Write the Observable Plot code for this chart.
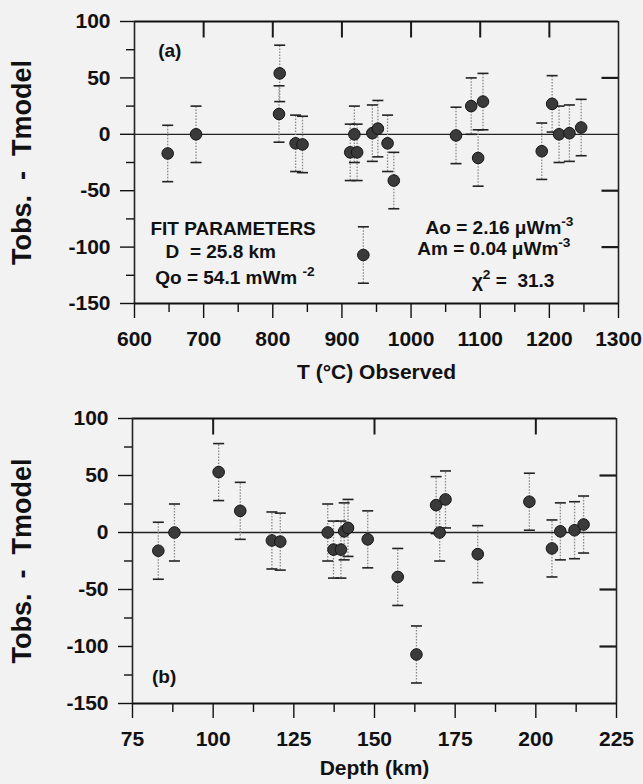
<!DOCTYPE html>
<html><head><meta charset="utf-8">
<script src="https://cdn.jsdelivr.net/npm/d3@7"></script>
<script src="https://cdn.jsdelivr.net/npm/@observablehq/plot@0.6"></script>
<style>
html,body{margin:0;padding:0;background:#f2f2f2;}
#chart{width:643px;height:784px;overflow:hidden;}
#chart svg{display:block;}
#chart text{white-space:pre;}
</style></head><body><div id="chart"></div>
<script>
// ---- data ----
const tempObserved = [648, 689, 810, 809, 833, 843, 918, 912, 922, 944, 952, 966, 975, 931, 1065, 1087, 1104, 1097, 1189, 1204, 1214, 1229, 1246];
const residualA    = [-17, 0, 54, 18, -8, -9, 0, -16, -16, 1, 5, -8, -41, -107, -1, 25, 29, -21, -15, 27, 0, 1, 6];
const depthKm      = [83, 88, 101.7, 108.4, 118.2, 120.8, 135.5, 137.3, 139.6, 140.6, 141.8, 147.9, 157.2, 163, 170.2, 169.1, 172, 182, 205, 198, 207.6, 212, 214.8];
const residualB    = [-16, 0, 53, 19, -7, -8, 0, -15, -15, 1, 4, -6, -39, -107, 0, 24, 29, -19, -14, 27, 1, 2, 7];
const errorBar = 25;

const tempTicks = [600, 700, 800, 900, 1000, 1100, 1200, 1300];
const tempMinorTicks = [650, 750, 850, 950, 1050, 1150, 1250];
const tempTopTicks = [700, 800, 900, 1000, 1100, 1200];
const depthTicks = [75, 100, 125, 150, 175, 200, 225];
const depthMinorTicks = [87.5, 112.5, 137.5, 162.5, 187.5, 212.5];
const depthTopTicks = [100, 150, 200];
const residTicks = [100, 50, 0, -50, -100, -150];
const residMinorTicks = [75, 25, -25, -75, -125];
const residRightTicks = [50, -50, -100];

const fitLabelsA = [
  {x: 651, y: 74, text: "(a)", anchor: "middle"},
  {x: 623, y: -84, text: "FIT PARAMETERS", anchor: "start"},
  {x: 645, y: -104, text: "D  = 25.8 km", anchor: "start"},
  {x: 630, y: -127, text: "Qo = 54.1 mWm ^-2", anchor: "start"},
  {x: 1021, y: -83, text: "Ao = 2.16 \u03bcWm^-3", anchor: "start"},
  {x: 1009, y: -102, text: "Am = 0.04 \u03bcWm^-3", anchor: "start"},
  {x: 1088, y: -130, text: "\u03c7^2^ =  31.3", anchor: "start"}
];
const fitLabelsB = [
  {x: 84.8, y: -127, text: "(b)", anchor: "middle"}
];

const yLabel = "Tobs.  -  Tmodel";
const xLabelA = "T (\u00b0C) Observed";
const xLabelB = "Depth (km)";

const font = "'Liberation Sans', Arial, sans-serif";
const fmt = d => (d < 0 ? "-" + Math.abs(d) : String(d));
const blank = () => "";

const capSymbol = {draw(ctx) { ctx.moveTo(-5.5, 0); ctx.lineTo(5.5, 0); }};

function panel(o) {
  const data = o.xs.map((x, i) => ({x, r: o.ys[i], lo: o.ys[i] - errorBar, hi: o.ys[i] + errorBar}));
  const yTop = 100, yBottom = -150;
  const [xMin, xMax] = o.xDomain;
  const fw = 643 - o.ml - o.mr;
  const fh = o.height - o.mt - o.mb;
  const yPerPx = (yTop - yBottom) / fh;
  const xPerPx = (xMax - xMin) / fw;
  const topTicks = o.xTop.map(x => ({x1: x, x2: x, y1: yTop, y2: yTop - 16 * yPerPx}));
  const rightTicks = residRightTicks.map(y => ({x1: xMax, x2: xMax - 17 * xPerPx, y1: y, y2: y}));
  return Plot.plot({
    width: 643, height: o.height,
    marginLeft: o.ml, marginRight: o.mr, marginTop: o.mt, marginBottom: o.mb,
    style: {background: "transparent", fontFamily: font, fontWeight: "bold", fontSize: "21px", color: "#111"},
    x: {domain: o.xDomain},
    y: {domain: [yBottom, yTop]},
    marks: [
      Plot.ruleY([0], {stroke: "#222", strokeWidth: 1.3}),
      Plot.ruleX(data, {x: "x", y1: "lo", y2: "hi", stroke: "#8a8a8a", strokeWidth: 1.3, strokeDasharray: "1.5,1.5"}),
      Plot.dot(data, {x: "x", y: "lo", symbol: capSymbol, fill: "none", stroke: "#222", strokeWidth: 1.6}),
      Plot.dot(data, {x: "x", y: "hi", symbol: capSymbol, fill: "none", stroke: "#222", strokeWidth: 1.6}),
      Plot.dot(data, {x: "x", y: "r", r: 5.8, fill: "#3a3a3a", stroke: "#151515", strokeWidth: 1}),
      // axes
      Plot.axisX({ticks: o.xTicks, tickSize: 15, tickPadding: o.xPad, tickFormat: fmt, label: null, fontSize: 21, fontWeight: "bold", strokeWidth: 1.4}),
      Plot.axisX({ticks: o.xMinor, tickSize: 9, tickFormat: blank, label: null, strokeWidth: 1.4}),
      Plot.link(topTicks, {x1: "x1", x2: "x2", y1: "y1", y2: "y2", stroke: "#1a1a1a", strokeWidth: 2}),
      Plot.axisY({ticks: residTicks, tickSize: 14, tickPadding: 10, tickFormat: fmt, label: null, fontSize: 21, fontWeight: "bold", strokeWidth: 1.4}),
      Plot.axisY({ticks: residMinorTicks, tickSize: 8, tickFormat: blank, label: null, strokeWidth: 1.4}),
      Plot.link(rightTicks, {x1: "x1", x2: "x2", y1: "y1", y2: "y2", stroke: "#1a1a1a", strokeWidth: 2.2}),
      Plot.ruleY([yTop, yBottom], {stroke: "#111", strokeWidth: 2}),
      Plot.ruleX(o.xDomain, {stroke: "#222", strokeWidth: 1.6}),
      // axis titles
      Plot.text([yLabel], {frameAnchor: "left", dx: o.yLabelDx, rotate: -90, textAnchor: "middle", lineAnchor: "middle", text: d => d, fontSize: 27, fontWeight: "bold", fill: "#111"}),
      Plot.text([o.xLabel], {frameAnchor: "bottom", dy: o.xLabelDy, textAnchor: "middle", lineAnchor: "middle", text: d => d, fontSize: 21, fontWeight: "bold", fill: "#111"}),
      // annotations
      Plot.text(o.labels.filter(d => d.anchor === "start"), {x: "x", y: "y", text: "text", textAnchor: "start", fontSize: 19, fontWeight: "bold", fill: "#111"}),
      Plot.text(o.labels.filter(d => d.anchor === "middle"), {x: "x", y: "y", text: "text", textAnchor: "middle", fontSize: 19, fontWeight: "bold", fill: "#111"})
    ]
  });
}

function applySup(svg) {
  d3.select(svg).selectAll("text").each(function () {
    const t = this.textContent;
    if (!t.includes("^")) return;
    const fs = parseFloat(getComputedStyle(this).fontSize) || 19;
    const parts = t.split("^");
    const sel = d3.select(this);
    sel.text(null);
    sel.append("tspan").text(parts[0]);
    sel.append("tspan").attr("dy", -0.42 * fs).attr("font-size", 0.72 * fs).text(parts[1]);
    if (parts.length > 2) sel.append("tspan").attr("dy", 0.42 * fs).text(parts[2]);
  });
}

const host = document.getElementById("chart");
const a = panel({xs: tempObserved, ys: residualA, xDomain: [600, 1300], xTicks: tempTicks, xMinor: tempMinorTicks, xTop: tempTopTicks,
  height: 392, ml: 134, mr: 25, mt: 21, mb: 89, xPad: 13, xLabel: xLabelA, xLabelDy: 69, yLabelDx: -112, labels: fitLabelsA});
const b = panel({xs: depthKm, ys: residualB, xDomain: [75, 225], xTicks: depthTicks, xMinor: depthMinorTicks, xTop: depthTopTicks,
  height: 392, ml: 132, mr: 27, mt: 26, mb: 81, xPad: 13, xLabel: xLabelB, xLabelDy: 65, yLabelDx: -110, labels: fitLabelsB});
host.appendChild(a);
host.appendChild(b);
applySup(a);
applySup(b);
</script></body></html>
